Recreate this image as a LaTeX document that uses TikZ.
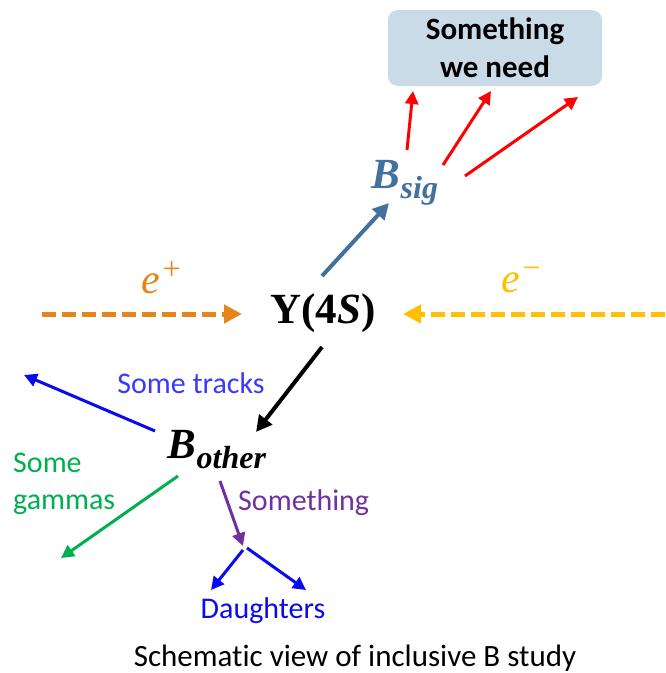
\documentclass[tikz,border=0pt]{standalone}
\usepackage{fontspec}
\setmainfont{Carlito}[Ligatures=NoCommon]
\newfontfamily\mfont{Liberation Serif}
\usetikzlibrary{arrows.meta}
\definecolor{sigblue}{HTML}{41719C}
\definecolor{boxfill}{HTML}{CADBE8}
\definecolor{eplus}{HTML}{E6861A}
\definecolor{eminus}{HTML}{FFC000}
\definecolor{trackblue}{HTML}{3A3AFF}
\definecolor{arrblue}{HTML}{0A0AF0}
\definecolor{gamgreen}{HTML}{00B050}
\definecolor{purp}{HTML}{7030A0}
\definecolor{redarr}{HTML}{FF0000}
\tikzset{
  lbl/.style={font=\fontsize{30}{36}\selectfont, inner sep=0pt},
  mathlbl/.style={font=\mfont\bfseries\fontsize{43}{45}\selectfont, inner sep=0pt},
  arr/.style={line width=4pt, -{Triangle[length=16pt,width=16pt]}},
  thinarr/.style={line width=3pt, -{Triangle[length=13pt,width=13pt]}},
  dasharr/.style={line width=5pt, dash pattern=on 14pt off 6pt, -{Triangle[length=18pt,width=18pt]}},
}
\begin{document}
\begin{tikzpicture}[x=1pt,y=-1pt]
\useasboundingbox (0,0) rectangle (665,673);
% goal box
\node[fill=boxfill, rounded corners=10pt, minimum width=214pt, minimum height=76pt,
      align=center, font=\bfseries\fontsize{31}{38}\selectfont, inner sep=0pt] (goal) at (495,48) {Something\\we need};
% particles
\node[mathlbl, text=sigblue] (bsig) at (405,183) {\itshape B\raisebox{-10pt}{\fontsize{32}{34}\selectfont sig}};
\node[mathlbl] (ups) at (323,313) {Υ(4\textit{S})};
\node[mathlbl] (bother) at (217,450) {\itshape B\raisebox{-10pt}{\fontsize{32}{34}\selectfont other}};
\node[lbl, text=eplus, font=\mfont\itshape\fontsize{42}{44}\selectfont] (ep) at (162,278) {e\raisebox{14pt}{\fontsize{32}{34}\selectfont +}};
\node[lbl, text=eminus, font=\mfont\itshape\fontsize{42}{44}\selectfont] (em) at (522,280) {e\raisebox{14pt}{\fontsize{32}{34}\selectfont −}};
% labels
\node[lbl, text=trackblue] (tracks) at (191,383) {Some tracks};
\node[lbl, text=gamgreen, align=left, anchor=west, font=\fontsize{30}{37}\selectfont] (gammas) at (13,484) {Some\\gammas};
\node[lbl, text=purp, anchor=west] (sth) at (238,503) {Something};
\node[lbl, text=arrblue] (daught) at (263,611) {Daughters};
\node[lbl, text=black, font=\fontsize{31}{36}\selectfont] (caption) at (355,658) {Schematic view of inclusive B study};
% coordinates
\coordinate (r1s) at (407,150); \coordinate (r1e) at (413,91);
\coordinate (r2s) at (443,165); \coordinate (r2e) at (491,91);
\coordinate (r3s) at (465,176); \coordinate (r3e) at (578,97);
\coordinate (ss) at (322,276); \coordinate (se) at (389,203);
\coordinate (eps) at (42,314); \coordinate (epe) at (242,314);
\coordinate (ems) at (665,314); \coordinate (eme) at (403,314);
\coordinate (os) at (322,347); \coordinate (oe) at (256,432);
\coordinate (ts) at (155,431); \coordinate (te) at (24,375);
\coordinate (gs) at (178,476); \coordinate (ge) at (61,558);
\coordinate (ps) at (220,481); \coordinate (pe) at (243,546);
\coordinate (d1s) at (243,550); \coordinate (d1e) at (211,590);
\coordinate (d2s) at (247,548); \coordinate (d2e) at (306,590);
% arrows
\draw[thinarr, redarr] (r1s) -- (r1e);
\draw[thinarr, redarr] (r2s) -- (r2e);
\draw[thinarr, redarr] (r3s) -- (r3e);
\draw[arr, sigblue] (ss) -- (se);
\draw[dasharr, eplus] (eps) -- (epe);
\draw[dasharr, eminus] (ems) -- (eme);
\draw[arr, black] (os) -- (oe);
\draw[thinarr, arrblue] (ts) -- (te);
\draw[thinarr, gamgreen] (gs) -- (ge);
\draw[thinarr, purp] (ps) -- (pe);
\draw[thinarr, arrblue] (d1s) -- (d1e);
\draw[thinarr, arrblue] (d2s) -- (d2e);
\end{tikzpicture}
\end{document}
